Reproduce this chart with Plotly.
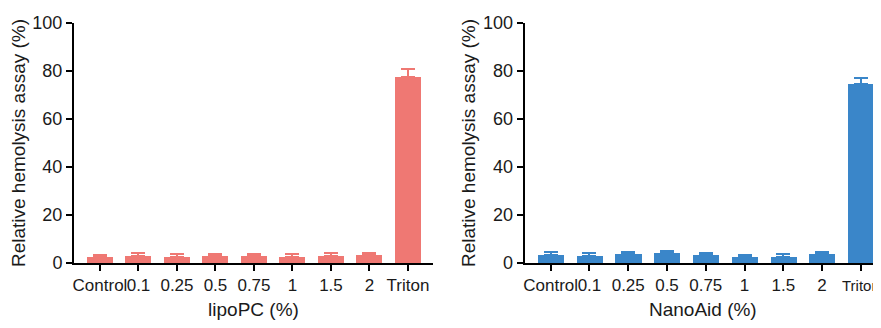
import plotly.graph_objects as go

categories = ["Control", "0.1", "0.25", "0.5", "0.75", "1", "1.5", "2", "Triton"]
lipo_values = [2.3, 3.0, 2.4, 2.9, 2.9, 2.5, 3.0, 3.2, 77.5]
lipo_errors = [1.2, 1.3, 1.2, 1.0, 1.0, 1.1, 1.3, 1.1, 3.2]
nano_values = [3.4, 2.9, 3.6, 4.1, 3.3, 2.6, 2.3, 3.6, 74.7]
nano_errors = [1.2, 1.4, 0.8, 0.9, 0.9, 0.7, 1.4, 1.1, 2.3]
yticks = [0, 20, 40, 60, 80, 100]

lipo_color = "#EF7873"
nano_color = "#3A86C9"
font = "Liberation Sans, Arial, sans-serif"

fig = go.Figure()
x_idx = list(range(len(categories)))
fig.add_trace(go.Bar(
    x=x_idx, y=lipo_values, width=0.675, marker=dict(color=lipo_color, line=dict(width=0)),
    error_y=dict(type="data", array=lipo_errors, arrayminus=[0]*len(lipo_errors),
                 color=lipo_color, thickness=2, width=7),
    xaxis="x", yaxis="y", showlegend=False))
fig.add_trace(go.Bar(
    x=x_idx, y=nano_values, width=0.675, marker=dict(color=nano_color, line=dict(width=0)),
    error_y=dict(type="data", array=nano_errors, arrayminus=[0]*len(nano_errors),
                 color=nano_color, thickness=2, width=7),
    xaxis="x2", yaxis="y2", showlegend=False))

# the last label of the right panel sits at the page edge; it is drawn a bit narrower as in the reference
right_ticktext = categories[:-1] + ['<span style="font-size:15px">' + categories[-1] + '</span>']

# page body adds an 8px offset, so the figure is smaller than the window
W, H = 873, 312
axis_common = dict(showline=True, linecolor="black", linewidth=2, ticks="outside",
                   ticklen=6, tickwidth=2, tickcolor="black", showgrid=False, zeroline=False,
                   automargin=False)
xtick_font = dict(family=font, size=17, color="#1a1a1a")
ytick_font = dict(family=font, size=18, color="#1a1a1a")
title_font = dict(family=font, size=19, color="#1a1a1a")

fig.update_layout(
    width=W, height=H,
    margin=dict(l=0, r=0, t=15, b=57),
    paper_bgcolor="white", plot_bgcolor="white",
    bargap=0,
    xaxis=dict(domain=[66/W, 425/W], range=[-0.675, 8.65], tickvals=x_idx, ticktext=categories,
               tickangle=0, tickfont=xtick_font, ticklabeloverflow="allow",
               anchor="y", title=dict(text="lipoPC (%)", font=title_font, standoff=14), **axis_common),
    yaxis=dict(domain=[0, 1], range=[0, 100], tickvals=yticks, anchor="x", tickfont=ytick_font,
               title=dict(text="Relative hemolysis assay (%)", font=title_font, standoff=2), **axis_common),
    xaxis2=dict(domain=[516.7/W, 1.0], range=[-0.67, 8.52], tickvals=x_idx, ticktext=right_ticktext,
                tickangle=0, tickfont=xtick_font, ticklabeloverflow="allow",
                anchor="y2", title=dict(text="NanoAid (%)", font=title_font, standoff=14), **axis_common),
    yaxis2=dict(domain=[0, 1], range=[0, 100], tickvals=yticks, anchor="x2", tickfont=ytick_font,
                title=dict(text="Relative hemolysis assay (%)", font=title_font, standoff=2), **axis_common),
)

fig.write_html("out.html")
